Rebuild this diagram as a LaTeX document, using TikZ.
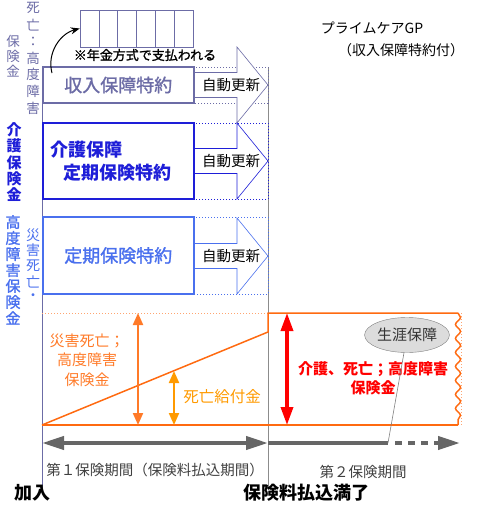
\documentclass[tikz,border=0pt]{standalone}
\usepackage{fontspec}
\setmainfont{Noto Sans CJK JP}
\newfontfamily\mediumjp{Noto Sans CJK JP}[FakeBold=1.3]
\usetikzlibrary{positioning, arrows.meta, shapes.geometric, decorations.pathmorphing}
\definecolor{income}{HTML}{6C6CA6}
\definecolor{care}{HTML}{1E1ED8}
\definecolor{term}{HTML}{4A70EE}
\definecolor{lineorange}{HTML}{FF6A10}
\definecolor{accorange}{HTML}{FF7A28}
\definecolor{deathorange}{HTML}{FF9A00}
\definecolor{periodgray}{HTML}{666666}
\definecolor{bubblegray}{HTML}{DCDCDC}

\begin{document}
\begin{tikzpicture}[
        x=1pt, y=-1pt,
        fs/.style 2 args={font=\fontsize{#1}{#2}\selectfont},
        bf/.style 2 args={font=\fontsize{#1}{#2}\selectfont\bfseries},
        md/.style 2 args={font=\mediumjp\fontsize{#1}{#2}\selectfont},
        rider/.style={rectangle, draw, fill=white, minimum width=151pt, inner sep=0pt, anchor=west},
        renewal/.style={line width=0.6pt, fill=white},
        spare/.style={dotted, line width=1pt},
        paygrid/.style={rectangle, draw=income, line width=0.6pt, minimum width=113pt, minimum height=37pt, inner sep=0pt},
        bubble/.style={ellipse, draw=gray, fill=bubblegray, minimum width=84pt, minimum height=35pt, inner sep=0pt, text=black!80},
        benefit/.style={line width=2pt, {Triangle[length=12pt,width=10pt]}-{Triangle[length=12pt,width=10pt]}},
        periodline/.style={periodgray, line width=4pt},
        bigtip/.tip={Triangle[length=22pt,width=13pt]}
    ]
    \useasboundingbox (0,0) rectangle (484,506);

    % pension payments
    \node (pension) [paygrid] at (136.5,28.5) {};
    \foreach \i in {1,...,5}
        \draw[income, line width=0.6pt] ({80+\i*18.83},10) -- ({80+\i*18.83},47);
    \node (note) [md={13}{15}] at (145,55) {※年金方式で支払われる};

    % guide lines
    \draw[black!45, line width=0.8pt] (268,67) -- (268,488);
    \draw[income, line width=0.8pt] (42,103) -- (42,488);

    % renewal arrows
    \foreach \top/\bot/\yc/\col/\nm in {67/103/85/income/a, 123/199/161/care/b, 217/294/256/term/c} {
        \draw[spare, \col] (193,\top) -- (268,\top) -- (268,\bot) -- (193,\bot);
        \draw[renewal, draw=\col] (194,\yc-12.5) -- (237,\yc-12.5) -- (237,\yc-38) -- (268,\yc)
            -- (237,\yc+38) -- (237,\yc+12.5) -- (194,\yc+12.5) -- cycle;
        \node (renew\nm) [fs={14.5}{17}] at (231,\yc) {自動更新};
    }

    % riders
    \node (incomebox) [rider, draw=income, line width=1.5pt, minimum height=36pt, text=income, md={18}{21}] at (42,85) {収入保障特約};
    \node (carebox) [rider, draw=care, line width=2pt, minimum height=76pt] at (42,161) {};
    \node (caretext) [bf={18}{23}, text=care, align=left] at (110.5,161) {介護保障\\\hspace*{13pt}定期保険特約};
    \node (termbox) [rider, draw=term, line width=1.5pt, minimum height=77pt, text=term, md={18}{21}] at (42,255.5) {定期保険特約};

    \draw[-{Stealth[length=9pt,width=7pt]}, line width=1pt] (52,73) to[out=105, in=195] (pension.west);

    % vertical labels
    \foreach \c [count=\i from 0] in {死,亡,：,高,度,障,害}
        \node (deathcol\i) [fs={13.5}{15}, text=income, inner sep=0pt] at (33,8+\i*16.7) {\c};
    \foreach \c [count=\i from 0] in {保,険,金}
        \node (sumcol\i) [fs={13.5}{15}, text=income, inner sep=0pt] at (13,41+\i*15) {\c};
    \foreach \c [count=\i from 0] in {介,護,保,険,金}
        \node (carecol\i) [bf={15}{17}, text=care, inner sep=0pt] at (14,130+\i*16.2) {\c};
    \foreach \c [count=\i from 0] in {高,度,障,害,保,険,金}
        \node (disabcol\i) [md={15}{17}, text=term, inner sep=0pt] at (13,222+\i*16) {\c};
    \foreach \c [count=\i from 0] in {災,害,死,亡,・}
        \node (acccol\i) [fs={14}{16}, text=term, inner sep=0pt] at (33,235+\i*15.5) {\c};

    % coverage outline
    \draw[lineorange!60, dotted, line width=1pt] (42,313) -- (268,313);
    \draw[lineorange, line width=1.5pt] (42,425) -- (268,332) -- (268,313) -- (458,313);
    \draw[lineorange, line width=1.5pt] (42,425) -- (458,425);
    \draw[lineorange, line width=1.5pt, decorate, decoration={snake, amplitude=2.5pt, segment length=14pt}] (458,313) -- (458,425);
    \draw[lineorange!60, dotted, line width=1pt] (461,313) -- (461,425);

    % benefits
    \coordinate (acctop) at (138,313);
    \coordinate (accbot) at (138,425);
    \draw[benefit, accorange] (acctop) -- (accbot);
    \node (acctext) [fs={15}{19.5}, text=accorange, align=center] at (87,360) {災害死亡；\\高度障害\\保険金};

    \coordinate (deathtop) at (174,371);
    \coordinate (deathbot) at (174,425);
    \draw[benefit, deathorange] (deathtop) -- (deathbot);
    \node (deathtext) [fs={15.5}{18}, text=deathorange] at (222,397) {死亡給付金};

    \coordinate (caretop) at (287,313);
    \coordinate (carebot) at (287,425);
    \draw[red, line width=3.5pt, {Triangle[length=18pt,width=12pt]}-{Triangle[length=18pt,width=12pt]}] (caretop) -- (carebot);
    \node (caretotal) [bf={15}{19}, text=red, align=center] at (373,378) {介護、死亡；高度障害\\保険金};

    \node (lifelong) [bubble, fs={15}{17}] at (407,335) {生涯保障};

    % periods
    \coordinate (join) at (42,443);
    \coordinate (paid) at (268,443);
    \coordinate (fade) at (388,443);
    \coordinate (later) at (460,443);
    \draw[periodline, bigtip-bigtip] (join) -- (paid);
    \draw[periodline] (paid) -- (fade);
    \draw[periodline, dash pattern=on 7pt off 6pt, -bigtip] ([xshift=7pt]fade) -- (later);
    \draw[gray, line width=0.6pt] ([xshift=-3pt]lifelong.south) -- (fade);

    \node (firstterm) [fs={14.5}{16}, text=black!75] at (155,470) {第１保険期間（保険料払込期間）};
    \node (secondterm) [fs={14.5}{16}, text=black!75] at (363,472) {第２保険期間};
    \node (entry) [bf={18}{20}] at (32,493) {加入};
    \node (paidup) [bf={18}{20}] at (306,493) {保険料払込満了};

    % title
    \node (title) [fs={14}{16}] at (372,28) {プライムケアGP};
    \node (subtitle) [fs={14}{16}] at (401,50) {（収入保障特約付）};
\end{tikzpicture}
\end{document}
